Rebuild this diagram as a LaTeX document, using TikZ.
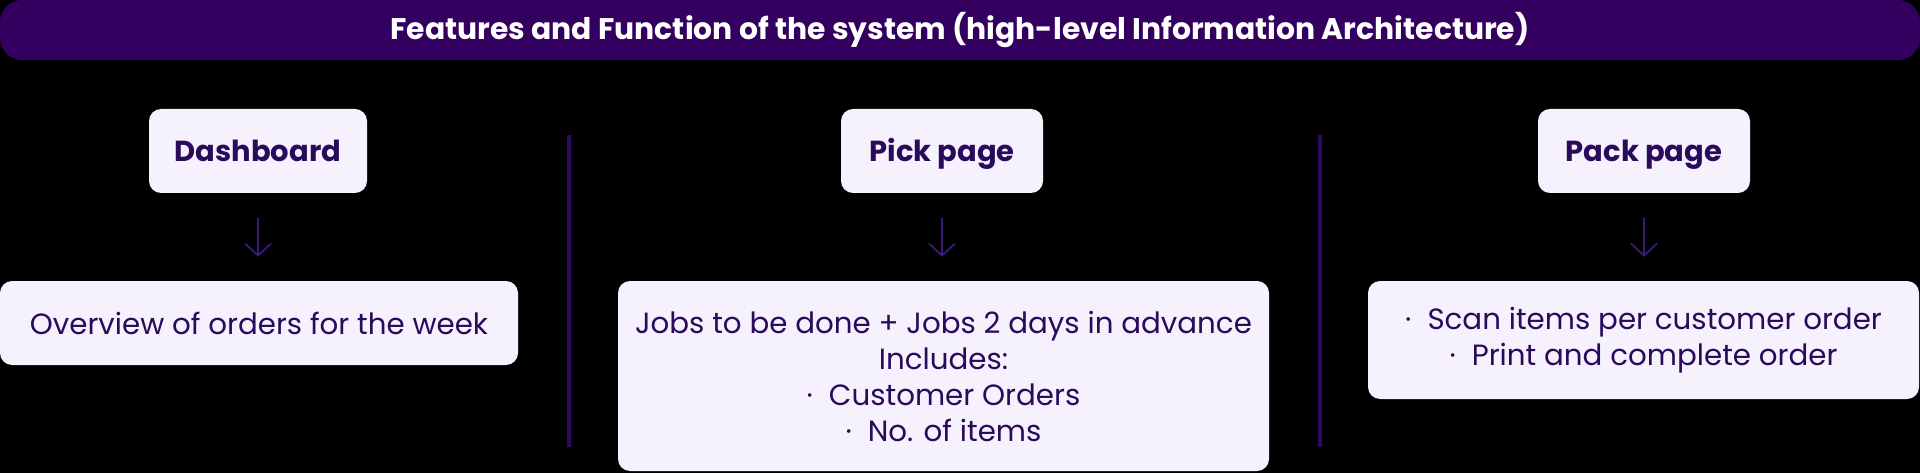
\documentclass[tikz,border=0pt]{standalone}
\usepackage{fontspec}
\setmainfont{Poppins}
\usepackage{xcolor}
\usetikzlibrary{arrows.meta}

\definecolor{barpurple}{HTML}{33005F}
\definecolor{boxfill}{HTML}{F6F2FD}
\definecolor{inkpurple}{HTML}{2A0A5B}
\definecolor{arrowpurple}{HTML}{3B1A78}
\definecolor{linepurple}{HTML}{2E0B63}

\newcommand{\itemdot}{\textperiodcentered\hspace{0.55em}}

\begin{document}
\begin{tikzpicture}[x=1pt, y=-1pt,
    titlebar/.style={rectangle, rounded corners=22pt, fill=barpurple, text=white, inner sep=0pt,
        minimum width=1920pt, minimum height=60pt, font=\fontsize{29.8}{34}\selectfont\bfseries},
    pagebox/.style={rectangle, rounded corners=12pt, fill=boxfill, text=inkpurple, inner sep=0pt,
        minimum height=84pt, text height=22pt, text depth=0pt, font=\fontsize{29}{34}\selectfont\bfseries},
    infobox/.style={rectangle, rounded corners=12pt, fill=boxfill, text=inkpurple, inner sep=0pt,
        align=center, font=\fontsize{29.3}{36}\selectfont},
    flow/.style={draw=arrowpurple, line width=1.8pt, -{Straight Barb[length=12pt, width=26pt]}},
    divider/.style={draw=linepurple, line width=3.5pt}]
        \fill[black] (0,0) rectangle (1920,473);
        \useasboundingbox (0,0) rectangle (1920,473);

        % Title
        \node[titlebar] (title) at (960, 30) {Features and Function of the system (high-level Information Architecture)};

        % Pages
        \node[pagebox, minimum width=218pt] (dash) at (258, 151) {Dashboard};
        \node[pagebox, minimum width=202pt] (pick) at (942, 151) {Pick page};
        \node[pagebox, minimum width=212pt] (pack) at (1644, 151) {Pack page};

        % Contents of each page
        \node[infobox, minimum width=518pt, minimum height=84pt] (overview) at (259, 323)
            {Overview of orders for the week};
        \node[infobox, minimum width=651pt, minimum height=190pt] (jobs) at (943.5, 376)
            {Jobs to be done + Jobs 2 days in advance\\ Includes:\\ \itemdot Customer Orders\\ \itemdot No. of items};
        \node[infobox, minimum width=551pt, minimum height=118pt] (scan) at (1643.5, 340)
            {\itemdot Scan items per customer order\\ \itemdot Print and complete order};

        % Arrows
        \draw[flow, shorten <=25pt, shorten >=24pt] (dash.south) -- (dash.south |- overview.north);
        \draw[flow, shorten <=25pt, shorten >=24pt] (pick.south) -- (pick.south |- jobs.north);
        \draw[flow, shorten <=25pt, shorten >=24pt] (pack.south) -- (pack.south |- scan.north);

        % Dividers
        \draw[divider] (569, 135) -- (569, 447);
        \draw[divider] (1320, 135) -- (1320, 447);
    \end{tikzpicture}
\end{document}
